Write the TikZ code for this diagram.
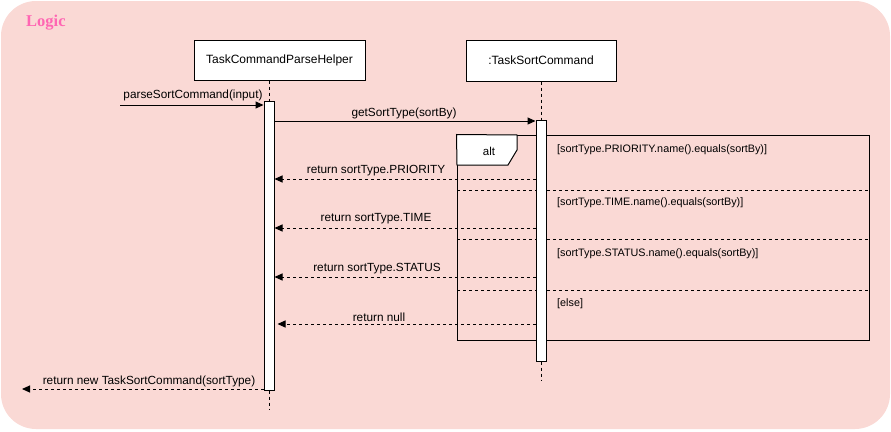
\documentclass[tikz,border=0pt]{standalone}
\usepackage{fontspec}
\setmainfont{Liberation Sans}
\newfontfamily\logicfont{Liberation Serif}
\usetikzlibrary{arrows.meta,calc}
\definecolor{bgpink}{HTML}{FAD9D5}
\definecolor{logicpink}{HTML}{FF66B3}
\tikzset{
  head/.style={draw,fill=white,line width=1pt,inner sep=0pt,font=\fontsize{12}{14}\selectfont},
  actbox/.style={draw,fill=white,line width=1pt,inner sep=0pt,minimum width=10pt},
  lifeline/.style={line width=1pt,dash pattern=on 3pt off 3pt},
  msg/.style={line width=1pt,-{Triangle[length=8pt,width=7pt]}},
  retmsg/.style={msg,dash pattern=on 3pt off 3pt},
  lbl/.style={font=\fontsize{11.8}{13}\selectfont,inner sep=0pt},
  guard/.style={font=\fontsize{10.8}{12}\selectfont,inner sep=0pt,anchor=west},
  sep/.style={line width=1pt,dash pattern=on 3pt off 3pt},
}
\begin{document}
\begin{tikzpicture}[x=1pt,y=-1pt]
\useasboundingbox (0,0) rectangle (891,431);
\fill[bgpink,rounded corners=35pt] (1,1) rectangle (890,429);
\node[font=\logicfont\bfseries\fontsize{16.5}{18}\selectfont,text=logicpink,anchor=west,inner sep=0pt] (logic) at (26,22.5) {Logic};

% lifeline heads
\node[head,minimum width=171pt,minimum height=40pt] (A) at (279.5,60) {TaskCommandParseHelper};
\node[head,minimum width=150pt,minimum height=41pt] (B) at (541,60.5) {:TaskSortCommand};

% alt frame
\node[draw,line width=1pt,minimum width=412pt,minimum height=205pt,inner sep=0pt] (alt) at (663,237.5) {};
\draw[sep] (457,190) -- (869,190);
\draw[sep] (457,239) -- (869,239);
\draw[sep] (457,290) -- (869,290);
\filldraw[fill=white,line width=1pt] (alt.north west) -- (517,135) -- (517,150) -- (508,165) -- (457,165) -- cycle;
\node[font=\fontsize{11.5}{13}\selectfont,inner sep=0pt] (altlbl) at (489,151) {alt};
\node[guard] (g1) at (557,150) {[sortType.PRIORITY.name().equals(sortBy)]};
\node[guard] (g2) at (557,203) {[sortType.TIME.name().equals(sortBy)]};
\node[guard] (g3) at (557,254) {[sortType.STATUS.name().equals(sortBy)]};
\node[guard] (g4) at (557,304) {[else]};

% lifelines
\coordinate (Aend) at (269,410);
\coordinate (Bend) at (541,380);
\node[actbox,minimum height=289pt] (actA) at (269,245.5) {};
\node[actbox,minimum height=241pt] (actB) at (541,240.5) {};
\draw[lifeline] (A.south -| actA) -- (actA.north);
\draw[lifeline] (actA.south) -- (Aend);
\draw[lifeline] (B.south) -- (actB.north);
\draw[lifeline] (actB.south) -- (Bend);

% messages
\coordinate (start) at (120,105);
\coordinate (endret) at (22,389);
\draw[msg] (start) -- (actA.west |- start);
\node[lbl] (m1) at (193,95) {parseSortCommand(input)};

\draw[msg] (actA.east |- 0,121) -- (actB.west |- 0,121);
\node[lbl] (m2) at (404,113) {getSortType(sortBy)};

\draw[retmsg] (actB.west |- 0,179) -- (actA.east |- 0,179);
\node[lbl] (m3) at (376,171) {return sortType.PRIORITY};

\draw[retmsg] (actB.west |- 0,228) -- (actA.east |- 0,228);
\node[lbl] (m4) at (376,219) {return sortType.TIME};

\draw[retmsg] (actB.west |- 0,277) -- (actA.east |- 0,277);
\node[lbl] (m5) at (377,269) {return sortType.STATUS};

\draw[retmsg] (actB.west |- 0,324) -- ([xshift=3pt]actA.east |- 0,324);
\node[lbl] (m6) at (379,317) {return null};

\draw[retmsg] (actA.west |- endret) -- (endret);
\node[lbl] (m7) at (149,381) {return new TaskSortCommand(sortType)};
\end{tikzpicture}
\end{document}
